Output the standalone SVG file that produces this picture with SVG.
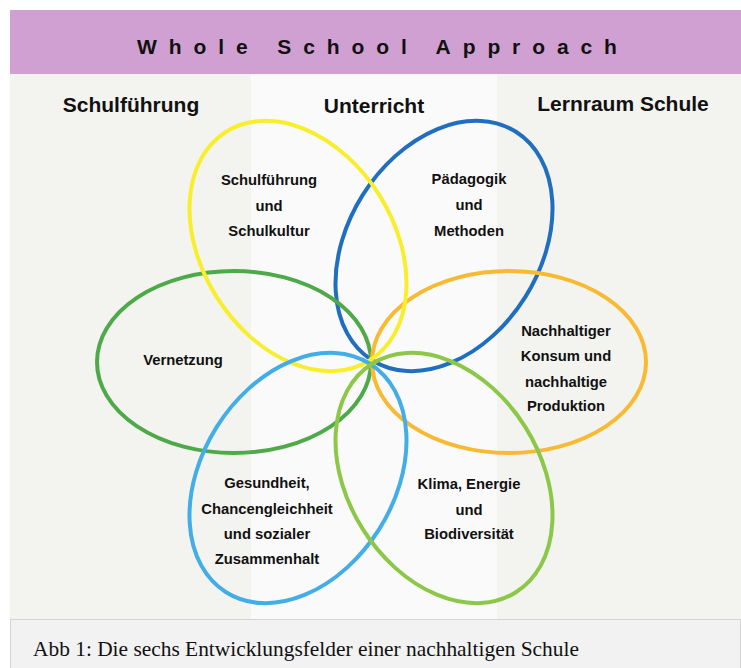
<svg xmlns="http://www.w3.org/2000/svg" width="741" height="668" viewBox="0 0 741 668">
<style>
.petal{fill:none;stroke-width:4}
.lbl{font-family:"Liberation Sans",Arial,sans-serif;font-weight:bold;font-size:14.8px;fill:#111;text-anchor:middle}
.col{font-family:"Liberation Sans",Arial,sans-serif;font-weight:bold;font-size:21px;fill:#111;text-anchor:middle}
</style>
<rect x="0" y="0" width="741" height="668" fill="#ffffff"/>
<g id="header">
<rect x="10" y="10" width="731" height="64" fill="#D1A0D2"/>
<text x="137" y="54" font-family="'Liberation Sans',Arial,sans-serif" font-weight="bold" font-size="21" letter-spacing="11.9" fill="#111">Whole School Approach</text>
</g>
<g id="panel">
<rect x="10" y="74" width="731" height="545" fill="#F3F4EF"/>
<rect x="251" y="74" width="246" height="545" fill="#FAFAFA"/>
</g>
<g id="columns">
<text class="col" x="131" y="112">Schulführung</text>
<text class="col" x="374" y="113">Unterricht</text>
<text class="col" x="623" y="111">Lernraum Schule</text>
</g>
<g id="connectors">
</g>
<g id="petal-paedagogik">
<ellipse class="petal" cx="0" cy="0" rx="135" ry="96" stroke="#1F6EC0" transform="translate(444 246) rotate(-57.8)"/>
<text class="lbl" x="469" y="184">Pädagogik</text>
<text class="lbl" x="469" y="210">und</text>
<text class="lbl" x="469" y="236">Methoden</text>
</g>
<g id="petal-vernetzung">
<ellipse class="petal" cx="234" cy="362" rx="137" ry="91" stroke="#4EAA48"/>
<text class="lbl" x="183" y="365">Vernetzung</text>
</g>
<g id="petal-konsum">
<ellipse class="petal" cx="509" cy="362" rx="137" ry="91" stroke="#F8B933"/>
<text class="lbl" x="566" y="336">Nachhaltiger</text>
<text class="lbl" x="566" y="361">Konsum und</text>
<text class="lbl" x="566" y="387">nachhaltige</text>
<text class="lbl" x="566" y="411">Produktion</text>
</g>
<g id="petal-schulfuehrung">
<ellipse class="petal" cx="0" cy="0" rx="135" ry="96" stroke="#F9EE2B" transform="translate(298 246) rotate(57.8)"/>
<text class="lbl" x="269" y="185">Schulführung</text>
<text class="lbl" x="269" y="211">und</text>
<text class="lbl" x="269" y="236">Schulkultur</text>
</g>
<g id="petal-gesundheit">
<ellipse class="petal" cx="0" cy="0" rx="135" ry="96" stroke="#42ADE7" transform="translate(298 478) rotate(-57.8)"/>
<text class="lbl" x="267" y="488">Gesundheit,</text>
<text class="lbl" x="267" y="514">Chancengleichheit</text>
<text class="lbl" x="267" y="539">und sozialer</text>
<text class="lbl" x="267" y="564">Zusammenhalt</text>
</g>
<g id="petal-klima">
<ellipse class="petal" cx="0" cy="0" rx="135" ry="96" stroke="#8CC747" transform="translate(444 478) rotate(57.8)"/>
<text class="lbl" x="469" y="489">Klima, Energie</text>
<text class="lbl" x="469" y="515">und</text>
<text class="lbl" x="469" y="539">Biodiversität</text>
</g>
<g id="caption">
<rect x="10.5" y="619.5" width="730" height="49" fill="#F2F2F2" stroke="#D4D4D4" stroke-width="1"/>
<text x="33" y="656" font-family="'Liberation Serif','Times New Roman',serif" font-size="21.4" fill="#111">Abb 1: Die sechs Entwicklungsfelder einer nachhaltigen Schule</text>
</g>
</svg>
